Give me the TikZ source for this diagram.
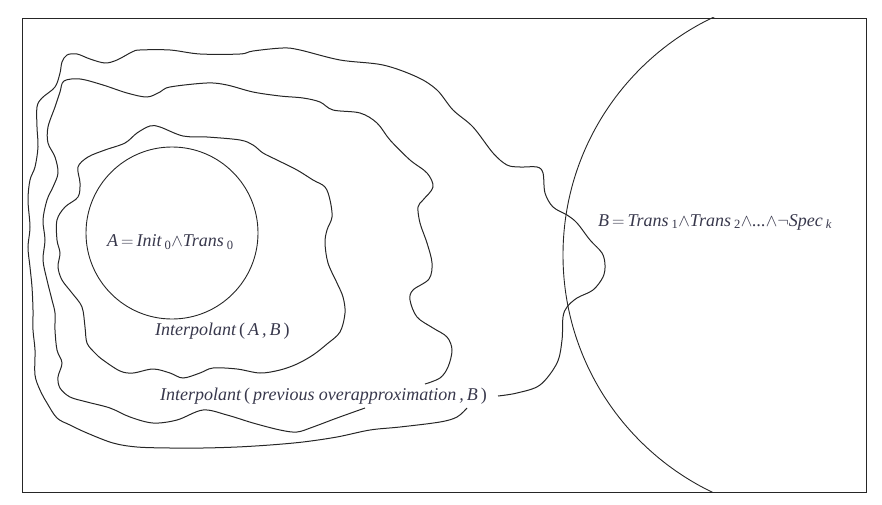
\documentclass[tikz,border=0pt]{standalone}
\usepackage{fontspec}
\setmainfont{Liberation Serif}
\definecolor{linec}{rgb}{0.15,0.15,0.15}
\definecolor{textc}{rgb}{0.22,0.22,0.3}
\newcommand{\lbl}{\fontsize{18}{20}\selectfont\itshape\color{textc}}
\newcommand{\sbs}[1]{\,\textsubscript{\upshape #1}}
\begin{document}
\begin{tikzpicture}[x=1pt,y=-1pt,
  curve/.style={draw=linec, line width=1pt},
  lab/.style={inner sep=0pt, font=\lbl, anchor=west}]
\useasboundingbox (0,0) rectangle (882,505);
\node[draw=linec, line width=0.9pt, minimum width=844pt, minimum height=474pt, inner sep=0pt, anchor=north west] (frame) at (22,18) {};
\begin{scope}
  \clip (frame.north west) rectangle (frame.south east);
  \node[circle, draw=linec, line width=0.9pt, minimum size=526pt, inner sep=0pt] (Bc) at (826,255) {};
\end{scope}
\node[circle, draw=linec, line width=0.9pt, minimum size=172pt, inner sep=0pt] (Ac) at (172,233) {};
% innermost curve
\draw[curve] plot[smooth cycle, tension=0.55] coordinates {
(150,126) (160,127) (183,136) (207,137) (240,140) (253,145) (263,153) (277,160) (297,170) (313,180) (325,187) (330,200) (332,217) (327,230) (325,243) (328,263) (337,283) (343,297) (345,313) (340,332) (327,344) (313,355) (297,364) (280,370) (260,373) (237,369) (213,368) (200,373) (183,378) (170,373) (153,369) (133,373) (120,371) (103,360) (95,353) (87,343) (85,327) (82,307) (72,293) (62,280) (58,267) (60,253) (57,240) (57,220) (65,207) (78,197) (80,183) (78,167) (88,157) (105,150) (125,143) (137,133)};
% second curve
\draw[curve] plot[smooth, tension=0.55] coordinates {
(365,408) (337,418) (313,427) (297,432) (280,430) (253,423) (227,415) (203,410) (177,420) (153,423) (130,417) (110,408) (87,402) (70,397) (60,388) (58,377) (62,363) (57,350) (55,330) (55,313) (52,300) (47,280) (43,260) (45,240) (43,220) (47,200) (53,187) (58,173) (55,157) (48,143) (48,127) (55,107) (60,92) (64,81) (80,79) (103,85) (127,93) (147,97) (160,92) (170,87) (207,83) (227,85) (253,92) (280,96) (303,98) (320,102) (333,110) (360,113) (377,123) (390,140) (410,160) (427,173) (433,187) (423,200) (418,207) (420,223) (427,243) (432,263) (429,279) (413,290) (410,300) (417,317) (433,328) (447,337) (452,350) (448,367) (440,378) (425,384)};
% outer curve
\draw[curve] plot[smooth, tension=0.55] coordinates {
(467,408) (457,417) (440,422) (400,427) (370,430) (337,437) (303,442) (270,445) (237,447) (203,448) (170,448) (137,447) (113,443) (87,433) (70,425) (57,418) (47,403) (40,390) (35,375) (35,350) (33,330) (33,310) (32,287) (30,267) (28,247) (30,227) (28,200) (30,180) (35,167) (38,147) (37,127) (37,107) (42,98) (55,87) (60,73) (62,62) (67,55) (77,54) (90,59) (105,63) (117,60) (132,52) (140,50) (170,50) (200,54) (240,54) (253,51) (283,48) (300,50) (340,60) (383,65) (417,77) (437,90) (453,110) (473,127) (493,153) (507,165) (520,167) (537,167) (543,173) (545,193) (553,207) (567,215) (577,223) (590,240) (602,253) (605,265) (603,277) (593,290) (577,298) (567,307) (563,317) (562,340) (557,363) (540,385) (517,393) (498,396)};
% labels
\node[lab] (la) at (107,242) {A\,$=$\,Init\sbs{0}$\wedge$Trans\sbs{0}};
\node[lab] (lb) at (598,222) {B\,$=$\,Trans\sbs{1}$\wedge$Trans\sbs{2}$\wedge$...$\wedge\neg$Spec\sbs{\itshape k}};
\node[lab] (li) at (155,331) {Interpolant\,\upshape(\,\itshape A\,,\,B\,\upshape)};
\node[lab] (lp) at (160,396) {Interpolant\,\upshape(\,\itshape previous overapproximation\,,\,B\,\upshape)};
\end{tikzpicture}
\end{document}
